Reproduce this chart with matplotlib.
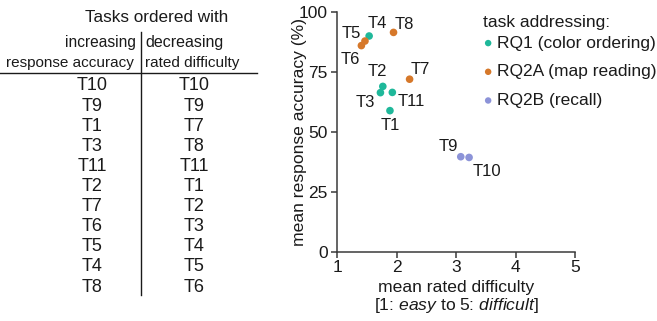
import matplotlib
matplotlib.use("Agg")
import matplotlib.pyplot as plt
from matplotlib.lines import Line2D

# data
tasks = ["T1", "T2", "T3", "T4", "T5", "T6", "T7", "T8", "T9", "T10", "T11"]
difficulty = [1.89, 1.77, 1.73, 1.54, 1.47, 1.41, 2.22, 1.95, 3.08, 3.22, 1.93]
accuracy = [58.9, 69.0, 66.4, 90.0, 87.9, 86.0, 72.0, 91.5, 39.7, 39.4, 66.5]
group = ["RQ1", "RQ1", "RQ1", "RQ1", "RQ2A", "RQ2A", "RQ2A", "RQ2A", "RQ2B", "RQ2B", "RQ1"]

group_names = {"RQ1": "RQ1 (color ordering)",
               "RQ2A": "RQ2A (map reading)",
               "RQ2B": "RQ2B (recall)"}
colors = {"RQ1": "#1fb89a", "RQ2A": "#d6782a", "RQ2B": "#8c93d8"}

order_accuracy = ["T10", "T9", "T1", "T3", "T11", "T2", "T7", "T6", "T5", "T4", "T8"]
order_difficulty = ["T10", "T9", "T7", "T8", "T11", "T1", "T2", "T3", "T4", "T5", "T6"]

# label offsets (pixels) for each task
offsets = {"T1": (0, -15), "T2": (-5, 15), "T3": (-15, -10), "T4": (8, 12),
           "T5": (-14, 8), "T6": (-11, -14), "T7": (11, 10), "T8": (11, 8),
           "T9": (-12, 10), "T10": (18, -14), "T11": (19, -9)}

plt.rcParams['font.family'] = ["Liberation Sans", "DejaVu Sans"]
plt.rcParams['mathtext.fontset'] = 'custom'
plt.rcParams['mathtext.it'] = 'Liberation Sans:italic'
plt.rcParams['mathtext.rm'] = 'Liberation Sans'
txt = "#1a1a1a"
axc = "#3a3a3a"

W, H = 657, 321
fig = plt.figure(figsize=(W / 100, H / 100), dpi=100)

def fx(px):
    return px / W

def fy(py):
    return 1 - py / H

# ---- table on the left ----
fig.text(fx(157), fy(18), "Tasks ordered with", ha="center", va="center", fontsize=12.3, color=txt)
fig.text(fx(136), fy(42), "increasing", ha="right", va="center", fontsize=11.2, color=txt)
fig.text(fx(134), fy(63), "response accuracy", ha="right", va="center", fontsize=11, color=txt)
fig.text(fx(145), fy(42), "decreasing", ha="left", va="center", fontsize=11.5, color=txt)
fig.text(fx(145), fy(63), "rated difficulty", ha="left", va="center", fontsize=11, color=txt)

fig.add_artist(Line2D([fx(0), fx(257)], [fy(73), fy(73)], color=txt, lw=1))
fig.add_artist(Line2D([fx(141), fx(141)], [fy(32), fy(295)], color=txt, lw=1))

for i, (a, d) in enumerate(zip(order_accuracy, order_difficulty)):
    y = 86 + i * 20.1
    fig.text(fx(92), fy(y), a, ha="center", va="center", fontsize=13, color=txt)
    fig.text(fx(194), fy(y), d, ha="center", va="center", fontsize=13, color=txt)

# ---- scatter plot ----
ax = fig.add_axes([fx(337), fy(252), (575 - 337) / W, (252 - 12) / H])
for g in colors:
    xs = [d for d, gg in zip(difficulty, group) if gg == g]
    ys = [a for a, gg in zip(accuracy, group) if gg == g]
    ax.scatter(xs, ys, s=30, color=colors[g], edgecolors="none", zorder=3,
               clip_on=False, label=group_names[g])

for t, d, a in zip(tasks, difficulty, accuracy):
    ax.annotate(t, (d, a), xytext=offsets[t], textcoords="offset pixels",
                ha="center", va="center", fontsize=12, color=txt)

ax.set_xlim(1, 5)
ax.set_ylim(0, 100)
ax.set_xticks([1, 2, 3, 4, 5])
ax.set_yticks([0, 25, 50, 75, 100])
for s in ["top", "right"]:
    ax.spines[s].set_visible(False)
for s in ["left", "bottom"]:
    ax.spines[s].set_color(axc)
    ax.spines[s].set_linewidth(1.1)
ax.tick_params(labelsize=12.5, colors=axc, labelcolor=txt, length=4, width=1.1)
ax.tick_params(axis="y", pad=2.5)
ax.tick_params(axis="x", pad=2)
ax.set_ylabel("mean response accuracy (%)", fontsize=12.6, color=txt)
ax.yaxis.set_label_coords(-0.125, 0.5)
ax.set_xlabel("mean rated difficulty", fontsize=12.6, color=txt)
ax.xaxis.set_label_coords(0.5, -0.115)
ax.text(0.5, -0.185, "[1: $easy$ to 5: $difficult$]", transform=ax.transAxes,
        ha="center", va="top", fontsize=12.6, color=txt)

leg = fig.legend(loc="upper left", bbox_to_anchor=(fx(476), fy(8)), frameon=False,
                 title="task addressing:", fontsize=12.5, title_fontsize=12.6,
                 handletextpad=0.2, handlelength=0.6, borderaxespad=0,
                 labelspacing=0.78, markerscale=0.85)
leg._legend_box.align = "left"
leg._legend_box.sep = 4
for t in leg.get_texts():
    t.set_color(txt)
leg.get_title().set_color(txt)

fig.savefig("out.png", dpi=100)
